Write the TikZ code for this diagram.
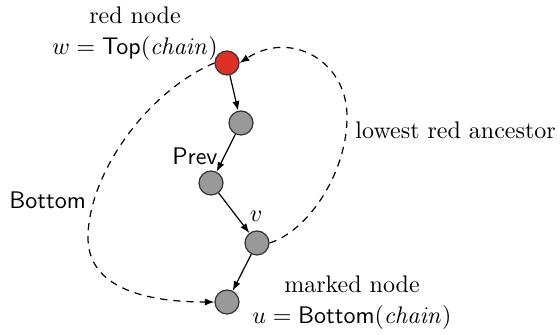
\documentclass[tikz,border=0pt]{standalone}
\usetikzlibrary{arrows.meta}
\begin{document}
\begin{tikzpicture}[x=0.4167pt,y=-0.4167pt,
  vtx/.style={circle,draw=black!80,line width=0.5pt,minimum size=10pt,inner sep=0pt,fill=gray!80},
  redvtx/.style={vtx,fill={rgb,255:red,222;green,48;blue,36}},
  edge/.style={-{Latex[length=4pt,width=3pt]},line width=0.5pt},
  dedge/.style={edge,dashed,dash pattern=on 3pt off 2.5pt}]
\useasboundingbox (0,0) rectangle (560,335);
\node[redvtx] (w) at (227,63) {};
\node[vtx] (a) at (241,123) {};
\node[vtx] (p) at (211,183) {};
\node[vtx] (v) at (257,243) {};
\node[vtx] (u) at (227,302) {};
\draw[edge] (w) -- (a);
\draw[edge] (a) -- (p);
\draw[edge] (p) -- (v);
\draw[edge] (v) -- (u);
\coordinate (r1) at (347,115);
\coordinate (l1) at (88,235);
\draw[dedge] (v.east) .. controls (310,230) and (348,170) .. (r1) .. controls (346,60) and (290,30) .. (w.east);
\draw[dedge] (w.west) .. controls (150,90) and (90,170) .. (l1) .. controls (86,290) and (150,302) .. (u.west);
\node[align=center,inner sep=0pt] (wl) at (135,34) {red node\\[1pt]$w=\textsf{Top}(\mathit{chain})$};
\node[anchor=west,inner sep=0pt] (lra) at (355,130) {lowest red ancestor};
\node[anchor=east,inner sep=0pt] (pl) at (218,156) {\textsf{Prev}};
\node[anchor=west,inner sep=0pt] (bl) at (9,200) {\textsf{Bottom}};
\node[inner sep=0pt] (vl) at (256,216) {$v$};
\node[align=center,inner sep=0pt] (ul) at (352,303) {marked node\\[1pt]$u=\textsf{Bottom}(\mathit{chain})$};
\end{tikzpicture}
\end{document}
